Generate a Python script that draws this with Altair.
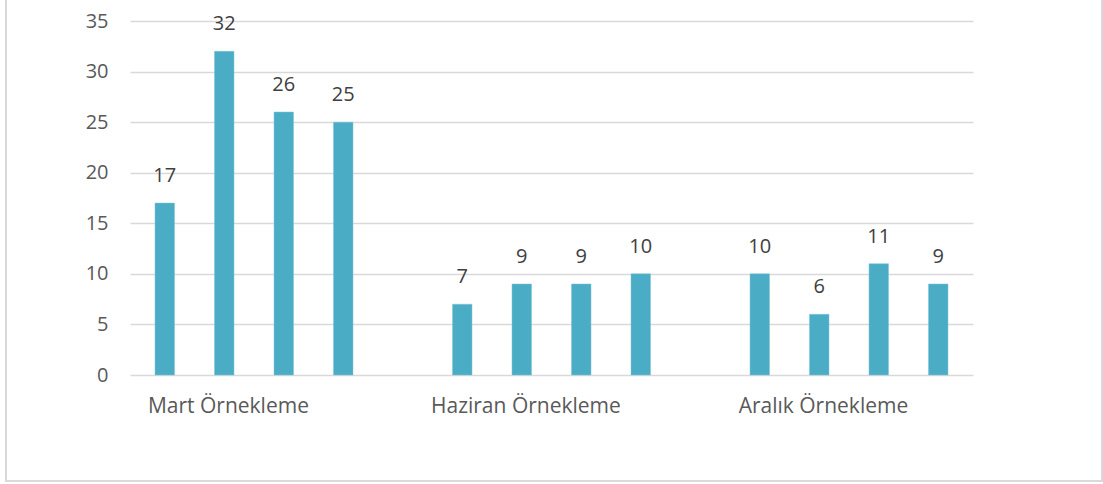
import altair as alt
import pandas as pd

groups = ["Mart Örnekleme", "Haziran Örnekleme", "Aralık Örnekleme"]
series = ["S1", "S2", "S3", "S4"]
values = [
    [17, 32, 26, 25],
    [7, 9, 9, 10],
    [10, 6, 11, 9],
]
y_ticks = [0, 5, 10, 15, 20, 25, 30, 35]

rows = []
for gi, g in enumerate(groups):
    for si, s in enumerate(series):
        rows.append({"group": g, "series": s, "pos": gi * 5 + si, "value": values[gi][si]})
df = pd.DataFrame(rows)
lab = pd.DataFrame({"group": groups, "pos": [gi * 5 + 1.07 for gi in range(len(groups))], "value": [0] * len(groups)})

FONT = "Open Sans"
W, H = 843, 354

xscale = alt.Scale(domain=[-0.5, 13.5], nice=False, zero=False)
yscale = alt.Scale(domain=[0, 35], nice=False)

bars = alt.Chart(df).mark_bar(color="#4BACC6", size=19.5, stroke="#7cc4d6", strokeWidth=0.5).encode(
    x=alt.X("pos:Q", scale=xscale, axis=None),
    y=alt.Y("value:Q", scale=yscale, axis=alt.Axis(
        values=y_ticks, grid=True, gridColor="#d9d9d9", gridWidth=1.3,
        domain=False, ticks=False, labelFont=FONT, labelFontSize=20,
        labelColor="#595959", labelPadding=22, title=None)),
)

texts = alt.Chart(df).mark_text(font=FONT, fontSize=20, color="#404040", baseline="bottom", dy=-17).encode(
    x=alt.X("pos:Q", scale=xscale),
    y=alt.Y("value:Q", scale=yscale),
    text=alt.Text("value:Q"),
)

cats = alt.Chart(lab).mark_text(font=FONT, fontSize=21, color="#595959", baseline="alphabetic", dy=38).encode(
    x=alt.X("pos:Q", scale=xscale),
    y=alt.Y("value:Q", scale=yscale),
    text="group:N",
)

border_df = pd.DataFrame({"k": [0]})
left = alt.Chart(border_df).mark_rule(color="#d9d9d9", strokeWidth=2).encode(
    x=alt.value(-124), y=alt.value(-30), y2=alt.value(460))
right = alt.Chart(border_df).mark_rule(color="#d9d9d9", strokeWidth=2).encode(
    x=alt.value(972), y=alt.value(-30), y2=alt.value(460))
bottom = alt.Chart(border_df).mark_rule(color="#d9d9d9", strokeWidth=2).encode(
    x=alt.value(-125), x2=alt.value(973), y=alt.value(460))

chart = alt.layer(left, right, bottom, bars, texts, cats).properties(
    width=W, height=H,
    autosize=alt.AutoSizeParams(type="none"),
    padding={"left": 130, "top": 21, "right": 1103 - 130 - W, "bottom": 484 - 21 - H},
    background="white",
).configure_view(stroke=None)

chart.save("out.html", embed_options={"renderer": "svg", "actions": False})
